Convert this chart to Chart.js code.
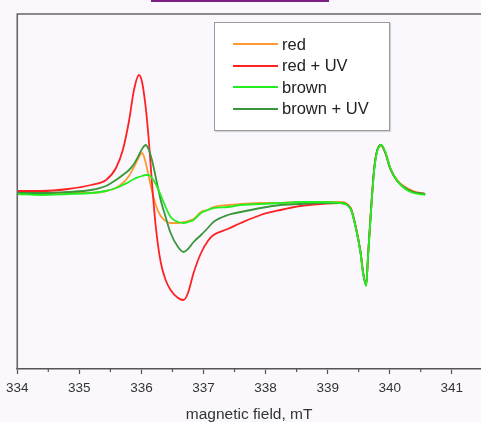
<!DOCTYPE html>
<html>
<head>
<meta charset="utf-8">
<script src="https://cdn.jsdelivr.net/npm/chart.js@4/dist/chart.umd.min.js"></script>
<style>
  html, body { margin: 0; padding: 0; background: #faf8fd; }
  #wrap { position: relative; width: 481px; height: 422px; overflow: hidden; }
  #topbar { position: absolute; left: 151px; top: 0; width: 178px; height: 2px; background: #7b1f80; }
  #legend {
    position: absolute; left: 214px; top: 22px; width: 174px; height: 107px;
    background: #fff; border: 1px solid #9a9a9a; box-shadow: 1px 1px 1px rgba(0,0,0,0.15);
    font-family: "Liberation Sans", Arial, sans-serif; font-size: 16.5px; color: #222;
  }
  .row { position: absolute; left: 18px; height: 20px; display: flex; align-items: center; }
  .row i { display: inline-block; width: 45px; height: 2px; margin-right: 4px; }
</style>
</head>
<body>
<div id="wrap">
  <canvas id="esr" width="481" height="422"></canvas>
  <div id="topbar"></div>
  <div id="legend"></div>
</div>
<script>
// magnetic field (mT), shared by all spectra
const field = [334.00, 334.39, 334.82, 335.19, 335.43, 335.59, 335.70, 335.80, 335.88, 335.96,
  336.01, 336.07, 336.12, 336.17, 336.23, 336.31, 336.39, 336.47, 336.59, 336.68,
  336.75, 336.84, 336.96, 337.07, 337.16, 337.39, 337.60, 337.92, 338.24, 338.56, 338.88, 339.20,
  339.37, 339.45, 339.53, 339.57, 339.62, 339.65, 339.70, 339.75, 339.80, 339.86,
  339.93, 340.01, 340.12, 340.25, 340.38, 340.57];

// EPR signal, arbitrary units
const redVals = [0, 0, 1, 1, 3, 6, 11, 18, 27, 37,
  41, 31, 17, 3, -11, -22, -27, -29, -29, -28,
  -27, -25, -18, -16, -13, -11, -10, -9, -9, -8, -8, -8,
  -14, -32, -58, -78, -91, -62, -14, 26, 44, 48,
  41, 26, 14, 7, 3, 0];
const redUvVals = [3, 3, 5, 9, 14, 26, 44, 73, 104, 119,
  112, 86, 53, 11, -32, -68, -86, -96, -104, -106,
  -99, -79, -59, -47, -41, -35, -29, -21, -16, -12, -10, -9,
  -14, -32, -58, -78, -91, -62, -14, 26, 44, 49,
  41, 25, 13, 6, 2, 0];
const brownVals = [0, -1, 0, 1, 3, 6, 9, 12, 15, 17,
  18, 19, 19, 16, 10, -1, -13, -23, -28, -29,
  -28, -26, -19, -16, -14, -13, -11, -10, -9, -8, -8, -9,
  -15, -33, -59, -79, -92, -63, -16, 24, 43, 49,
  42, 26, 13, 5, 1, -1];
const brownUvVals = [1, 1, 2, 4, 8, 14, 19, 24, 30, 39,
  45, 49, 44, 34, 17, -6, -23, -39, -53, -58,
  -55, -48, -41, -34, -28, -21, -18, -14, -11, -10, -9, -9,
  -15, -33, -59, -79, -91, -63, -15, 25, 44, 49,
  41, 25, 13, 6, 2, 0];

const names = ['red', 'red + UV', 'brown', 'brown + UV'];
const colors = ['#ff9933', '#ff2222', '#22ee22', '#3a963a'];
const series = [redVals, redUvVals, brownVals, brownUvVals];

const majorTicks = [334, 335, 336, 337, 338, 339, 340, 341];

// html legend in a box, like the original plot
const legendEl = document.getElementById('legend');
names.forEach((n, i) => {
  const row = document.createElement('div');
  row.className = 'row';
  row.style.top = (11 + i * 21.5) + 'px';
  row.innerHTML = '<i style="background:' + colors[i] + '"></i><span>' + n + '</span>';
  legendEl.appendChild(row);
});

// light green is drawn on top, so reverse the draw order
const drawOrder = [2, 3, 1, 0];
const datasets = drawOrder.map(i => ({
  label: names[i],
  data: field.map((f, k) => ({ x: f, y: series[i][k] })),
  borderColor: colors[i],
  borderWidth: 1.8,
  pointRadius: 0,
  cubicInterpolationMode: 'monotone',
  fill: false
}));

// frame lines and the short minor ticks
const framePlugin = {
  id: 'frame',
  afterDraw(chart) {
    const { ctx, chartArea } = chart;
    const xs = chart.scales.x;
    ctx.save();
    ctx.strokeStyle = '#666';
    ctx.lineWidth = 1.6;
    ctx.beginPath();
    ctx.moveTo(chartArea.left, chartArea.bottom);
    ctx.lineTo(chartArea.left, chartArea.top);
    ctx.lineTo(chartArea.right, chartArea.top);
    ctx.stroke();
    ctx.lineWidth = 1.2;
    ctx.strokeStyle = '#555';
    for (let v = 334.5; v < xs.max; v += 1) {
      const px = xs.getPixelForValue(v);
      ctx.beginPath();
      ctx.moveTo(px, chartArea.bottom);
      ctx.lineTo(px, chartArea.bottom + 3);
      ctx.stroke();
    }
    ctx.restore();
  }
};

new Chart(document.getElementById('esr'), {
  type: 'line',
  data: { datasets: datasets },
  options: {
    responsive: false,
    animation: false,
    layout: { padding: { left: 16, top: 14, right: 0, bottom: 0 } },
    plugins: { legend: { display: false }, tooltip: { enabled: false } },
    scales: {
      x: {
        type: 'linear',
        min: 334,
        max: 341.47,
        afterFit: s => { s.height = 53; },
        afterBuildTicks: s => { s.ticks = majorTicks.map(v => ({ value: v })); },
        ticks: {
          autoSkip: false,
          maxRotation: 0,
          padding: 6,
          color: '#333',
          font: { family: '"Liberation Sans", Arial, sans-serif', size: 13.5 }
        },
        grid: { drawOnChartArea: false, tickLength: 5, tickColor: '#555', tickWidth: 1.2 },
        border: { color: '#555', width: 1.6 },
        title: {
          display: true,
          text: 'magnetic field, mT',
          color: '#333',
          padding: { top: 0, bottom: -2 },
          font: { family: '"Liberation Sans", Arial, sans-serif', size: 15.5 }
        }
      },
      y: { display: false, min: -175, max: 180 }
    }
  },
  plugins: [framePlugin]
});
</script>
</body>
</html>
